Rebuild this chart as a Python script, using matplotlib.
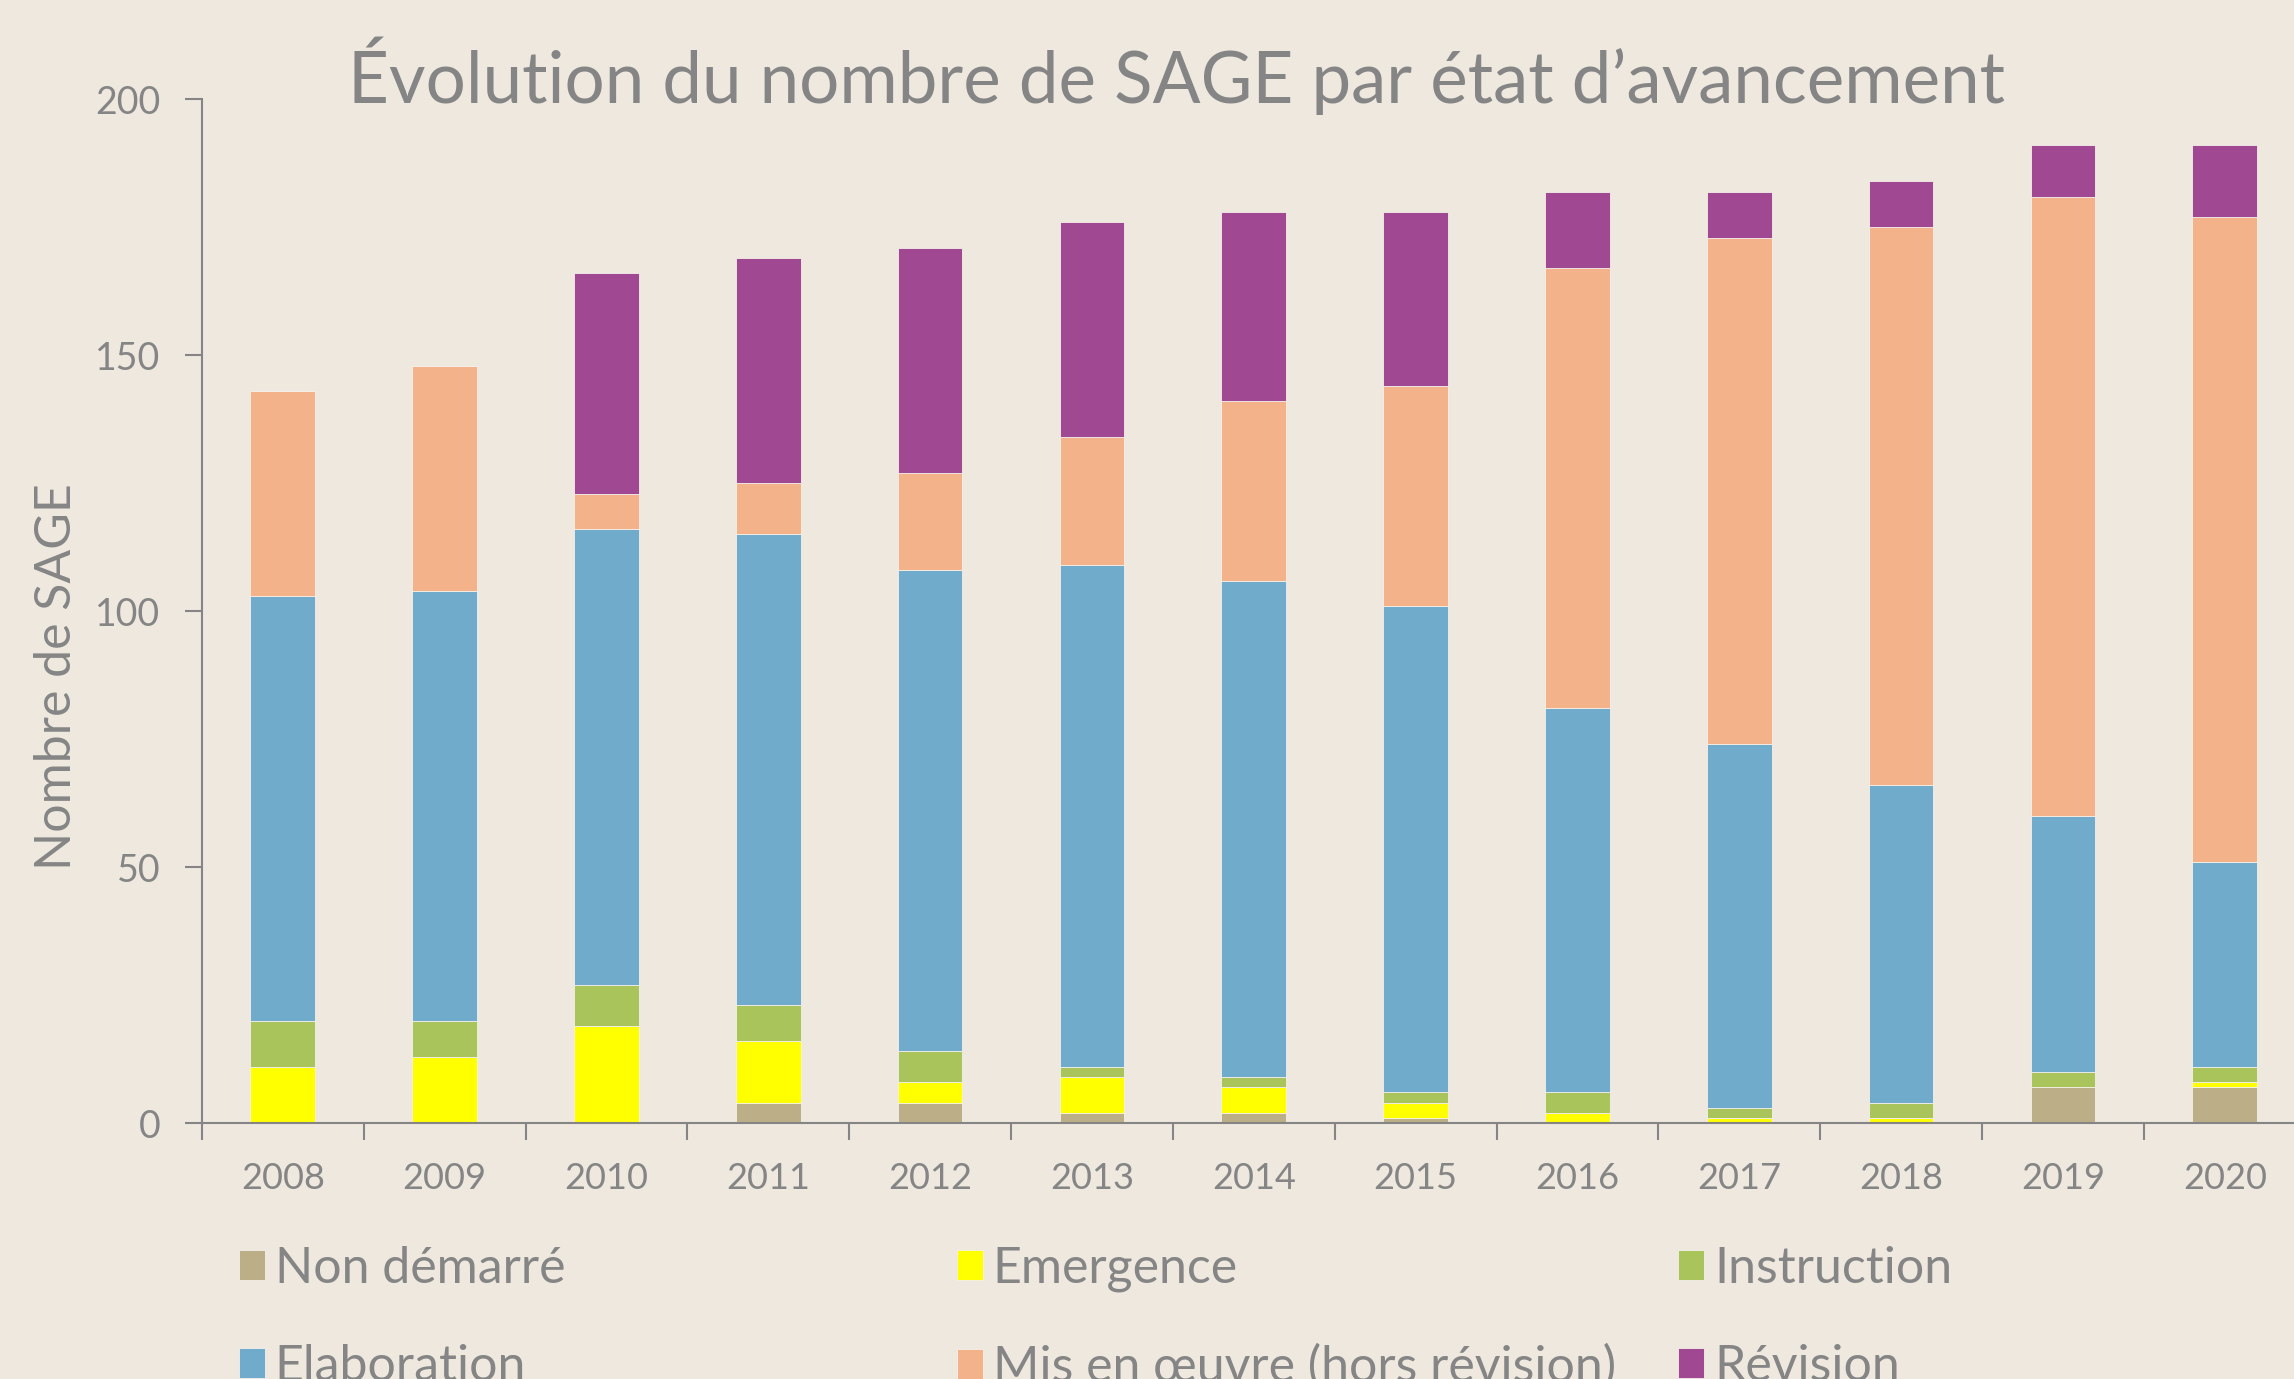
import matplotlib
matplotlib.use("Agg")
import matplotlib.pyplot as plt
import numpy as np

years = ["2008", "2009", "2010", "2011", "2012", "2013", "2014",
         "2015", "2016", "2017", "2018", "2019", "2020"]
non_demarre = [0, 0, 0, 4, 4, 2, 2, 1, 0, 0, 0, 7, 7]
emergence = [11, 13, 19, 12, 4, 7, 5, 3, 2, 1, 1, 0, 1]
instruction = [9, 7, 8, 7, 6, 2, 2, 2, 4, 2, 3, 3, 3]
elaboration = [83, 84, 89, 92, 94, 98, 97, 95, 75, 71, 62, 50, 40]
mis_en_oeuvre = [40, 44, 7, 10, 19, 25, 35, 43, 86, 99, 109, 121, 126]
revision = [0, 0, 43, 44, 44, 42, 37, 34, 15, 9, 9, 10, 14]

series = [
    ("Non démarré", non_demarre, "#bcaf87"),
    ("Emergence", emergence, "#ffff00"),
    ("Instruction", instruction, "#a8c45a"),
    ("Elaboration", elaboration, "#71abcb"),
    ("Mis en œuvre (hors révision)", mis_en_oeuvre, "#f3b28a"),
    ("Révision", revision, "#a04891"),
]

bg = "#eee8df"
grey = "#858585"
plt.rcParams["font.family"] = ["Lato", "DejaVu Sans"]

fig = plt.figure(figsize=(22.94, 13.79), dpi=100, facecolor=bg)
ax = fig.add_axes([0.088, 0.1856, 0.9171, 0.7423])
ax.set_facecolor(bg)

x = np.arange(len(years))
bottom = np.zeros(len(years))
handles = {}
for name, vals, col in series:
    b = ax.bar(x, vals, 0.4, bottom=bottom, color=col, label=name,
               edgecolor="#f4f0ea", linewidth=0.6)
    handles[name] = b
    bottom += np.array(vals)

ax.set_xlim(-0.5, len(years) - 0.5)
ax.set_ylim(0, 200)
ax.set_yticks([0, 50, 100, 150, 200])
ax.set_xticks(x)
ax.set_xticklabels(years)
ax.set_xticks(np.arange(-0.5, len(years), 1), minor=True)
ax.tick_params(axis="x", which="major", length=0, pad=28, labelsize=26, labelcolor=grey)
ax.tick_params(axis="x", which="minor", length=12, width=1.5, color=grey)
ax.tick_params(axis="y", length=12, width=1.5, color=grey, labelsize=27,
               labelcolor=grey, pad=18)
for s in ["top", "right"]:
    ax.spines[s].set_visible(False)
for s in ["left", "bottom"]:
    ax.spines[s].set_color(grey)
    ax.spines[s].set_linewidth(1.5)

ax.set_ylabel("Nombre de SAGE", fontsize=36, color=grey, labelpad=10)
ax.yaxis.set_label_coords(-0.058, 0.436)

fig.text(0.513, 0.945, "Évolution du nombre de SAGE par état d’avancement",
         ha="center", va="center", fontsize=51, color=grey)

# one small legend per column so the columns sit where they do in the original
columns = [("Non démarré", "Elaboration"),
           ("Emergence", "Mis en œuvre (hors révision)"),
           ("Instruction", "Révision")]
col_x = [0.104, 0.417, 0.7315]
for names, cx in zip(columns, col_x):
    fig.legend([handles[n] for n in names], names, loc="upper left",
               bbox_to_anchor=(cx, 0.0966), borderaxespad=0, borderpad=0,
               frameon=False, fontsize=36, labelcolor=grey,
               handlelength=0.52, handleheight=0.56, handletextpad=0.2,
               labelspacing=1.04)

fig.savefig("out.png", dpi=100, facecolor=bg)
